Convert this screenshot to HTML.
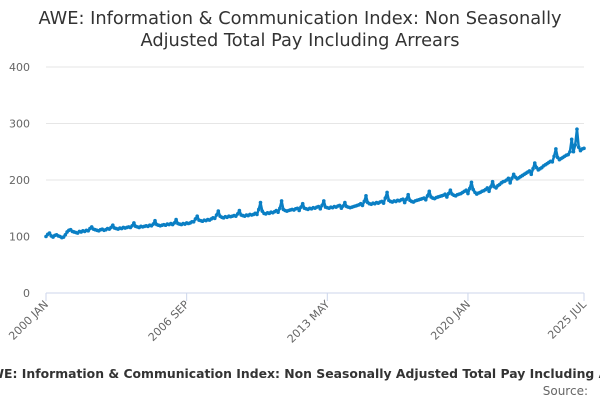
<!DOCTYPE html>
<html><head><meta charset="utf-8"><style>
body{margin:0;width:600px;height:400px;overflow:hidden;background:#fff;font-family:"DejaVu Sans","Liberation Sans",sans-serif}
</style></head><body>
<svg width="600" height="400" id="c" font-family="DejaVu Sans, Liberation Sans, sans-serif">
<text x="300" y="24" text-anchor="middle" font-size="17.8" fill="#333">AWE: Information &amp; Communication Index: Non Seasonally</text>
<text x="300" y="46" text-anchor="middle" font-size="17.8" fill="#333">Adjusted Total Pay Including Arrears</text>
<g id="grid"></g><g id="xax"></g><g id="series"></g>
<text x="316" y="378" text-anchor="middle" font-size="12.4" font-weight="bold" fill="#333">AWE: Information &amp; Communication Index: Non Seasonally Adjusted Total Pay Including Arrears</text>
<text x="588" y="395" text-anchor="end" font-size="12" fill="#666">Source:</text>
</svg>
<script>
const yTicks=[0,100,200,300,400];
const xTickLabels=["2000 JAN","2006 SEP","2013 MAY","2020 JAN","2025 JUL"];
const xTickIndex=[0,80,160,240,306];
const values=[
100,104,106,101,99,102,103,101,100,98,99,103,
108,111,112,109,108,107,106,109,108,110,109,111,
110,114,117,113,112,111,110,112,113,111,112,114,
113,116,120,115,114,113,115,114,116,115,116,117,
116,119,124,118,117,116,118,117,118,119,118,120,
119,122,128,121,120,119,120,121,120,122,121,123,
121,124,130,123,122,121,123,122,124,123,124,126,
126,131,136,129,128,127,129,128,130,129,131,133,
132,138,145,136,134,133,135,134,136,135,136,137,
136,140,146,138,137,136,138,137,139,138,139,141,
139,148,160,145,141,140,142,141,143,142,144,146,
143,150,163,148,146,145,146,147,148,147,149,150,
146,152,158,150,149,148,150,149,151,150,152,153,
149,155,163,152,151,150,152,151,153,152,154,155,
150,154,160,153,152,151,152,153,154,155,156,158,
155,162,172,160,158,157,159,158,160,159,161,162,
159,168,178,164,162,161,163,162,164,163,165,166,
160,166,174,164,162,161,163,164,165,166,167,168,
165,172,180,170,168,167,169,170,171,172,173,175,
170,176,182,175,173,172,174,175,176,178,180,182,
176,185,196,183,178,175,177,178,180,181,183,186,
180,188,197,188,186,190,192,195,197,198,200,203,
195,203,210,205,202,204,206,208,210,212,214,216,
210,220,230,222,218,220,222,225,227,229,231,233,
232,242,255,240,236,238,240,242,244,245,250,272,
250,262,290,258,252,255,256];
const NS="http://www.w3.org/2000/svg";
const x0=46,x1=584,y0=293,y1=67;
const xs=i=>x0+i/(values.length-1)*(x1-x0);
const ys=v=>y0-v/400*(y0-y1);
function mk(t,a,p){const e=document.createElementNS(NS,t);for(const k in a)e.setAttribute(k,a[k]);p.appendChild(e);return e;}
const g=document.getElementById('grid');
yTicks.forEach(v=>{
 const l=mk('line',{x1:x0,x2:x1,y1:ys(v),y2:ys(v),stroke:v===0?'#ccd6eb':'#e6e6e6'},g);
 
 
 const t=mk('text',{x:30,y:ys(v)+4,'text-anchor':'end','font-size':11,fill:'#666'},g);
 t.textContent=v;
 
 
});
const xa=document.getElementById('xax');
xTickIndex.forEach((idx,k)=>{
 const x=xs(idx);
 const tk=mk('line',{x1:x,x2:x,y1:y0,y2:y0+8,stroke:'#ccd6eb'},xa);
 
 
 const t=mk('text',{x:x+3,y:y0+12,'text-anchor':'end','font-size':11,fill:'#666',transform:`rotate(-45 ${x+3} ${y0+12})`},xa);
 t.textContent=xTickLabels[k];
 
 
});
const s=document.getElementById('series');
const p=mk('polyline',{points:values.map((v,i)=>xs(i)+','+ys(v)).join(' '),fill:'none',stroke:'#0a7fc4','stroke-width':2.5,'stroke-linejoin':'round'},s);


values.forEach((v,i)=>{
 const c=mk('circle',{cx:xs(i),cy:ys(v),r:1.8,fill:'#0a7fc4'},s);
 
 
});
</script>
</body></html>
